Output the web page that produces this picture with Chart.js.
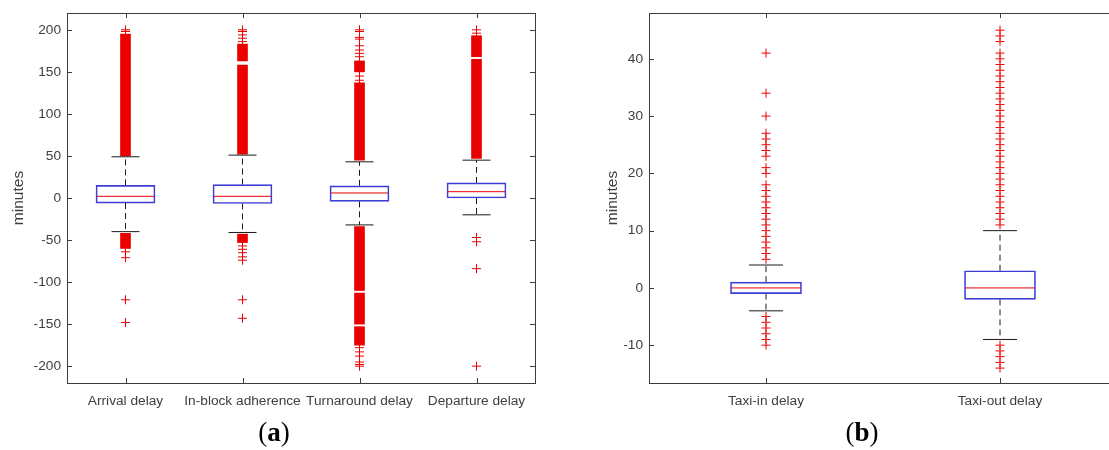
<!DOCTYPE html>
<html>
<head>
<meta charset="utf-8">
<script src="https://cdn.jsdelivr.net/npm/chart.js@4.4.1/dist/chart.umd.min.js"></script>
<style>
html, body { margin: 0; padding: 0; background: #fff; overflow: hidden; width: 1109px; height: 450px; }
canvas { position: absolute; top: 0; }
.tag { position: absolute; font-family: "Liberation Serif", serif; font-size: 27px; line-height: 27px; color: #000; transform: translateX(-50%); white-space: nowrap; }
</style>
</head>
<body>
<canvas id="chartA" width="560" height="420" style="left:0"></canvas>
<canvas id="chartB" width="560" height="420" style="left:580px"></canvas>
<div class="tag" style="left:274px; top:419px">(<b>a</b>)</div>
<div class="tag" style="left:862px; top:419px">(<b>b</b>)</div>
<script>
// Farben
let farbe_text = "#404040";
let farbe_rahmen = "#3c3c3c";
let farbe_box = "rgb(60, 60, 215)";
let farbe_rot = "rgb(235, 0, 0)";
let farbe_whisker = "#1a1a1a";

// Panel (a)
const kategorienA = ["Arrival delay", "In-block adherence", "Turnaround delay", "Departure delay"];
const q1A = [-6, -6.5, -4, 0];
const medianA = [2, 2, 6, 7.5];
const q3A = [15, 16, 14.5, 18];
const whiskerObenA = [49, 51, 43, 45];
const whiskerUntenA = [-40, -41, -32, -20];
// dicht gepackte Ausreisser als [von, bis]
const dichtA = [
    [[50, 195], [-60, -42]],
    [[52, 158], [163, 183], [-53, -43]],
    [[45, 137], [150, 163], [-110, -34], [-150, -113], [-175, -153]],
    [[47, 165], [168, 193]]
];
const einzelnA = [
    [198, 200, -64, -71, -121, -148],
    [186, 190, 194, 198, 200, -57, -61, -65, -70, -74, -121, -143],
    [140, 145, 168, 172, 176, 181, 189, 191, 198, 200, -178, -183, -188, -195, -198, -200],
    [196, 200, -47, -52, -84, -200]
];
const yTicksA = [-200, -150, -100, -50, 0, 50, 100, 150, 200];

// Panel (b)
const kategorienB = ["Taxi-in delay", "Taxi-out delay"];
const q1B = [-1, -2];
const medianB = [0, 0];
const q3B = [1, 3];
const whiskerObenB = [4, 10];
const whiskerUntenB = [-4, -9];
const einzelnB = [
    [5, 6, 7, 8, 9, 10, 11, 12, 13, 14, 15, 16, 17, 18, 20, 21, 23, 24, 25, 26, 27, 30, 34, 41,
     -5, -6, -7, -8, -9, -10],
    [11, 12, 13, 14, 15, 16, 17, 18, 19, 20, 21, 22, 23, 24, 25, 26, 27, 28, 29, 30,
     31, 32, 33, 34, 35, 36, 37, 38, 39, 40, 41, 43, 44, 45,
     -10, -11, -12, -13, -14]
];
const yTicksB = [-10, 0, 10, 20, 30, 40];

// Rahmen und Tickmarken nach innen (wie MATLAB)
const rahmenPlugin = {
    id: "rahmen",
    afterDraw(chart) {
        const { ctx, chartArea: a, scales } = chart;
        ctx.save();
        ctx.strokeStyle = farbe_rahmen;
        ctx.lineWidth = 1;
        ctx.strokeRect(a.left + 0.5, a.top + 0.5, a.right - a.left, a.bottom - a.top);
        ctx.beginPath();
        scales.y.ticks.forEach(t => {
            const py = Math.round(scales.y.getPixelForValue(t.value)) + 0.5;
            ctx.moveTo(a.left, py); ctx.lineTo(a.left + 5, py);
            ctx.moveTo(a.right - 5, py); ctx.lineTo(a.right, py);
        });
        scales.x.ticks.forEach((t, i) => {
            const px = Math.round(scales.x.getPixelForValue(i)) + 0.5;
            ctx.moveTo(px, a.top); ctx.lineTo(px, a.top + 5);
            ctx.moveTo(px, a.bottom - 5); ctx.lineTo(px, a.bottom);
        });
        ctx.stroke();
        ctx.restore();
    }
};

// keine automatische Randpolsterung durch die Achsen
function ohnePolster(s) {
    s.paddingTop = 0;
    s.paddingBottom = 0;
    s.paddingLeft = 0;
    s.paddingRight = 0;
}

function erstelleBoxplot(config) {
    const {
        id,
        kategorien,
        q1, median, q3,
        whiskerOben, whiskerUnten,
        dicht = [],
        einzeln = [],
        yTicks,
        yMin, yMax,
        boxBreite = 59,
        kappe = 14,
        achseBreite = 67,
        titelAbstand = 9,
        rechts = 25
    } = config;

    const datasets = [];

    // Median
    datasets.push({
        type: "line",
        showLine: false,
        data: kategorien.map((k, i) => ({ x: k, y: median[i] })),
        pointStyle: "line",
        pointRadius: boxBreite / 2 - 1,
        pointBorderColor: farbe_rot,
        pointBorderWidth: 1,
        order: 0
    });

    // Box von q1 bis q3
    datasets.push({
        type: "bar",
        data: kategorien.map((k, i) => [q1[i], q3[i]]),
        backgroundColor: "rgba(0,0,0,0)",
        borderColor: farbe_box,
        borderWidth: 1,
        borderSkipped: false,
        barThickness: boxBreite,
        grouped: false,
        order: 1
    });

    // Whisker gestrichelt
    const whiskerPunkte = [];
    kategorien.forEach((k, i) => {
        whiskerPunkte.push({ x: k, y: q3[i] }, { x: k, y: whiskerOben[i] }, { x: k, y: null });
        whiskerPunkte.push({ x: k, y: q1[i] }, { x: k, y: whiskerUnten[i] }, { x: k, y: null });
    });
    datasets.push({
        type: "line",
        data: whiskerPunkte,
        borderColor: farbe_whisker,
        borderWidth: 1,
        borderDash: [6, 4],
        pointRadius: 0,
        spanGaps: false,
        order: 3
    });

    // Kappen der Whisker
    const kappenPunkte = [];
    kategorien.forEach((k, i) => {
        kappenPunkte.push({ x: k, y: whiskerOben[i] }, { x: k, y: whiskerUnten[i] });
    });
    datasets.push({
        type: "line",
        showLine: false,
        data: kappenPunkte,
        pointStyle: "line",
        pointRadius: kappe,
        pointBorderColor: farbe_whisker,
        pointBorderWidth: 1,
        order: 2
    });

    // dichte Ausreisser als schmale Balken
    const maxSeg = Math.max(0, ...dicht.map(d => d.length));
    for (let s = 0; s < maxSeg; s++) {
        datasets.push({
            type: "bar",
            data: kategorien.map((k, i) => (dicht[i] && dicht[i][s]) ? dicht[i][s] : null),
            backgroundColor: farbe_rot,
            borderWidth: 0,
            barThickness: 10,
            grouped: false,
            order: 4
        });
    }

    // einzelne Ausreisser als +
    const ausreisser = [];
    kategorien.forEach((k, i) => {
        (einzeln[i] || []).forEach(v => ausreisser.push({ x: k, y: v }));
    });
    datasets.push({
        type: "line",
        showLine: false,
        data: ausreisser,
        pointStyle: "cross",
        pointRadius: 4.5,
        pointBorderColor: farbe_rot,
        pointBorderWidth: 1,
        order: 4
    });

    const ctx = document.getElementById(id).getContext("2d");
    return new Chart(ctx, {
        type: "bar",
        data: { labels: kategorien, datasets: datasets },
        options: {
            responsive: false,
            animation: false,
            events: [],
            layout: { autoPadding: false, padding: { left: 0, right: rechts, top: 13, bottom: 0 } },
            plugins: { legend: { display: false }, tooltip: { enabled: false } },
            scales: {
                x: {
                    type: "category",
                    offset: true,
                    grid: { display: false, drawTicks: false },
                    border: { display: false },
                    ticks: {
                        color: farbe_text,
                        font: { family: "Liberation Sans", size: 13.7 },
                        padding: 10,
                        maxRotation: 0,
                        autoSkip: false
                    },
                    afterFit: s => { s.height = 37; ohnePolster(s); }
                },
                y: {
                    type: "linear",
                    min: yMin,
                    max: yMax,
                    grid: { display: false, drawTicks: false },
                    border: { display: false },
                    afterBuildTicks: s => { s.ticks = yTicks.map(v => ({ value: v })); },
                    ticks: {
                        color: farbe_text,
                        font: { family: "Liberation Sans", size: 13.7 },
                        padding: 6
                    },
                    title: {
                        display: true,
                        text: "minutes",
                        color: farbe_text,
                        font: { family: "Liberation Sans", size: 15.5 },
                        padding: { top: titelAbstand, bottom: 0 }
                    },
                    afterFit: s => { s.width = achseBreite; ohnePolster(s); }
                }
            }
        },
        plugins: [rahmenPlugin]
    });
}

erstelleBoxplot({
    id: "chartA",
    kategorien: kategorienA,
    q1: q1A, median: medianA, q3: q3A,
    whiskerOben: whiskerObenA, whiskerUnten: whiskerUntenA,
    dicht: dichtA,
    einzeln: einzelnA,
    yTicks: yTicksA,
    yMin: -220, yMax: 220,
    boxBreite: 59,
    kappe: 14,
    achseBreite: 67,
    titelAbstand: 9,
    rechts: 25
});

erstelleBoxplot({
    id: "chartB",
    kategorien: kategorienB,
    q1: q1B, median: medianB, q3: q3B,
    whiskerOben: whiskerObenB, whiskerUnten: whiskerUntenB,
    einzeln: einzelnB,
    yTicks: yTicksB,
    yMin: -16.6, yMax: 48,
    boxBreite: 71,
    kappe: 17,
    achseBreite: 69,
    titelAbstand: 23,
    rechts: 23
});
</script>
</body>
</html>
